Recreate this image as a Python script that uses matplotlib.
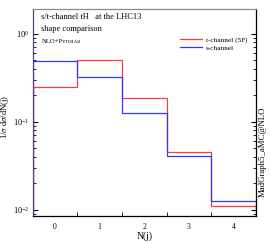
import numpy as np
import matplotlib.pyplot as plt

plt.rcParams['font.family'] = ['Liberation Serif', 'DejaVu Serif']
plt.rcParams['mathtext.fontset'] = 'stix'

# bin edges of N(j) and normalised shapes
edges = [-0.5, 0.5, 1.5, 2.5, 3.5, 4.5]
bin_labels = ['0', '1', '2', '3', '4']
t_channel = [0.25, 0.50, 0.187, 0.0456, 0.0111]
s_channel = [0.493, 0.325, 0.126, 0.041, 0.0127]

fig = plt.figure(figsize=(2.7, 2.43), dpi=100)
ax = fig.add_axes([0.1204, 0.111, 0.8277, 0.852])

ax.stairs(t_channel, edges, color='#ff3b3b', lw=0.9, label='t-channel (5F)')
ax.stairs(s_channel, edges, color='#3535ff', lw=0.9, label='s-channel')

ax.set_yscale('log')
ax.set_xlim(-0.5, 4.5)
ax.set_ylim(0.0085, 1.9)

ax.set_xticks(np.arange(len(bin_labels)))
ax.set_xticklabels(bin_labels)
ax.set_xticks([0.5, 1.5, 2.5, 3.5], minor=True)
ax.tick_params(axis='x', which='major', length=0, labelsize=5.5, pad=5)
ax.tick_params(axis='x', which='minor', direction='in', length=3, top=False)
ax.tick_params(axis='y', which='both', direction='in', right=True, labelsize=6)
ax.tick_params(axis='y', which='major', length=3.5, pad=2.5)
ax.tick_params(axis='y', which='minor', length=2)

ax.spines['top'].set_color('0.55')
ax.spines['left'].set_color('#5a3f80')
for s in ax.spines.values():
    s.set_linewidth(0.9)

ax.set_xlabel('N(j)', fontsize=7, labelpad=0)
ax.set_ylabel(r'1/$\sigma$ d$\sigma$/dN(j)', fontsize=6.2)
ax.yaxis.set_label_coords(-0.097, 0.48)

ax.text(0.04, 0.95, 's/t-channel tH   at the LHC13', transform=ax.transAxes, fontsize=6)
ax.text(0.04, 0.895, 'shape comparison', transform=ax.transAxes, fontsize=6)
t1 = ax.text(0.04, 0.835, 'NLO+P', transform=ax.transAxes, fontsize=4.8)
fig.canvas.draw()
bb = t1.get_window_extent().transformed(ax.transAxes.inverted())
ax.text(bb.x1, 0.835, 'YTHIA8', transform=ax.transAxes, fontsize=3.8)

ax.legend(loc='upper right', bbox_to_anchor=(0.99, 0.9), frameon=False,
          fontsize=5.2, handlelength=3.0, handletextpad=0.5, labelspacing=0.3)

fig.text(0.972, 0.375, 'MadGraph5_aMC@NLO', rotation=90, fontsize=6.3,
         ha='center', va='center')

fig.savefig('out.png', dpi=100)
